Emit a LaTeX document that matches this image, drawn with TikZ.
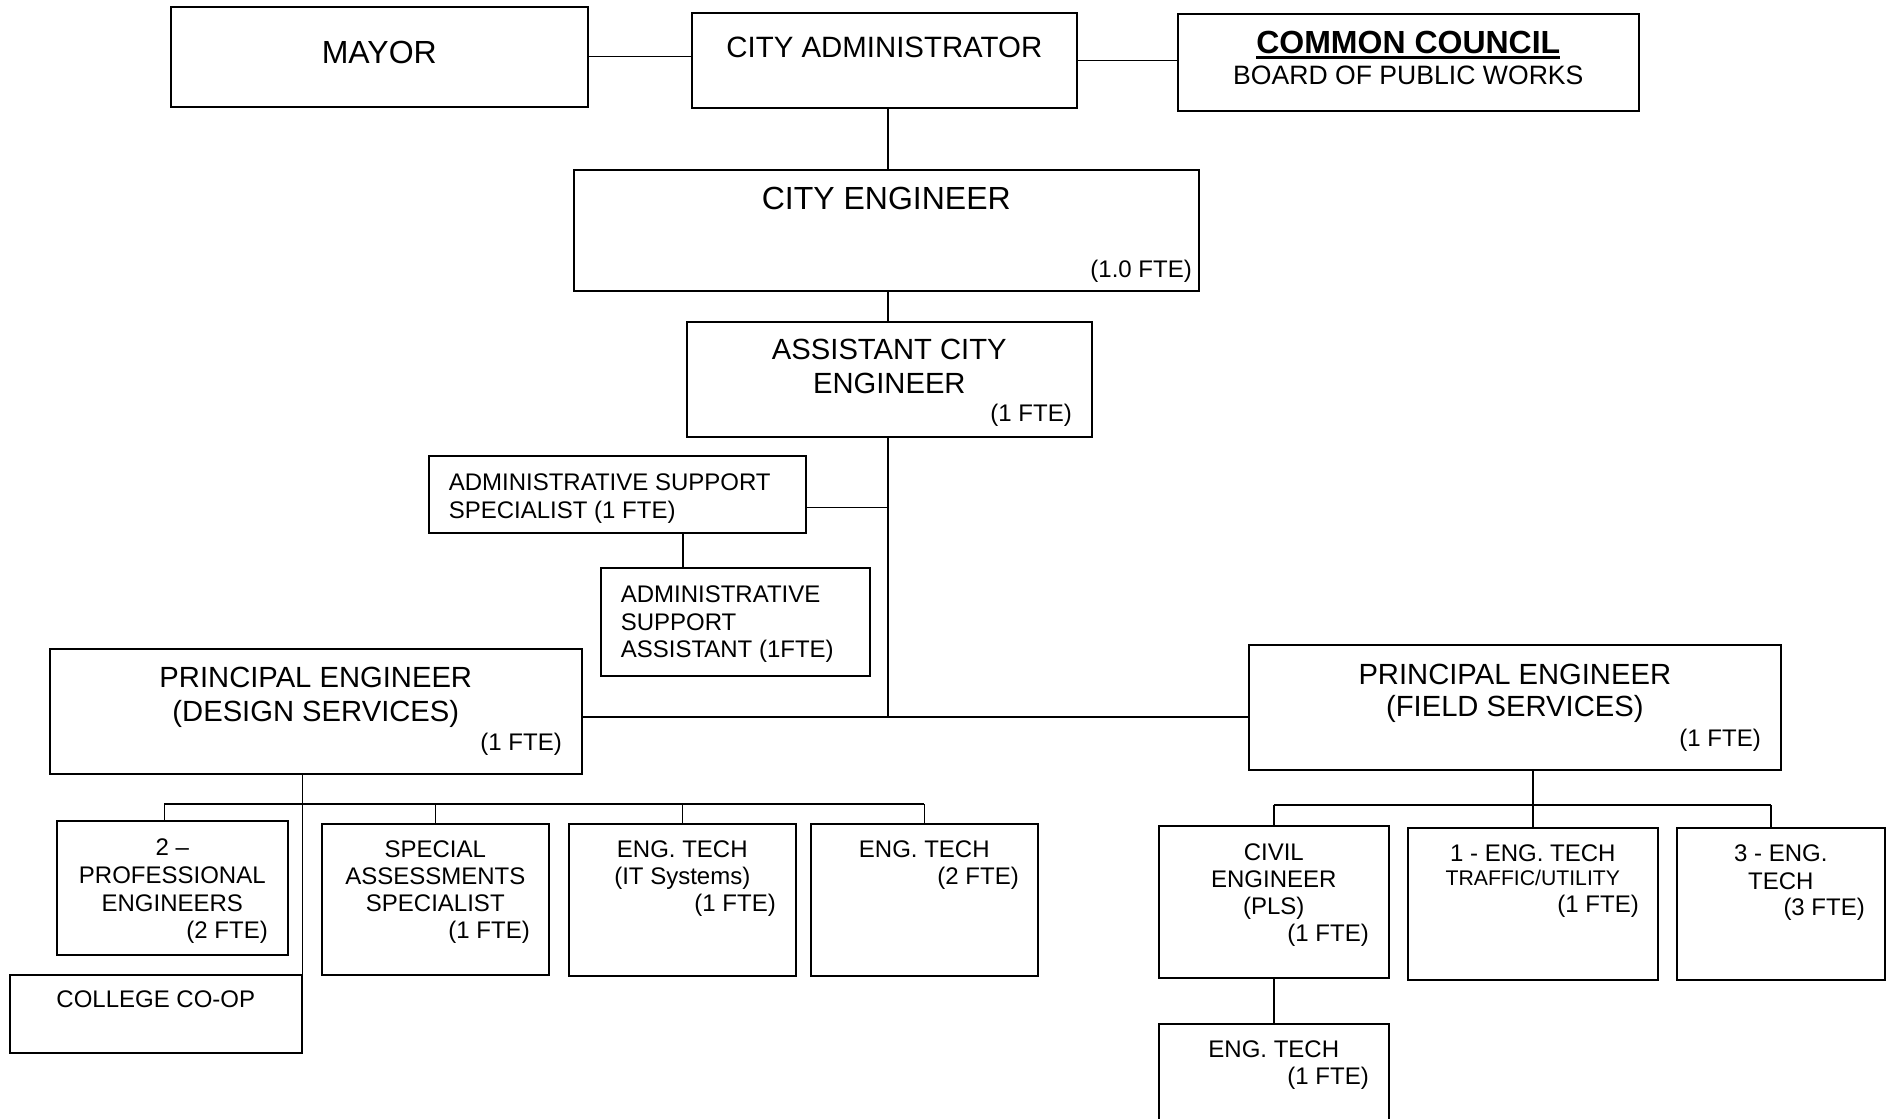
\documentclass[tikz,border=0pt]{standalone}
\usepackage{fontspec}
\setmainfont{Liberation Sans}
%% box text: width, height, gap above first line, lines
\newcommand{\boxtext}[4]{\parbox[t][#2][t]{#1}{\vspace*{#3}#4}}
%% one line: size, distance from previous baseline, text
\newcommand{\boxline}[3]{{\fontsize{#1}{#2}\selectfont#3\par}}
\newcommand{\ulbold}[1]{\leavevmode\setbox0=\hbox{\bfseries#1}\rlap{\rule[-2.9pt]{\wd0}{1.4pt}}\box0}

\begin{document}
\begin{tikzpicture}
[x=0.5pt,y=-0.5pt,
  orgbox/.style={draw,line width=0.8pt,inner xsep=10pt,inner ysep=0pt,anchor=north west},%
  orgline/.style={-,line width=0.7pt}]
\useasboundingbox (0,0) rectangle (1893,1118);
%% top row
\node[orgbox] (mayor) at (170,6) {\boxtext{188.5pt}{50pt}{17pt}{\centering
  \boxline{16}{19}{MAYOR}}};
\node[orgbox] (admin) at (691,12) {\boxtext{172.5pt}{47.5pt}{12.3pt}{\centering
  \boxline{14.7}{17}{CITY ADMINISTRATOR}}};
\node[orgbox] (council) at (1177,13) {\boxtext{210.5pt}{48.5pt}{8.5pt}{\centering
  \boxline{16}{19}{\ulbold{COMMON COUNCIL}}%
  \boxline{13.3}{15.85}{BOARD OF PUBLIC WORKS}}};
%% engineers
\node[orgbox] (cityeng) at (573,169) {\boxtext{292.5pt}{60.5pt}{8.85pt}{\centering
  \boxline{16}{19}{CITY ENGINEER}%
  \boxline{12}{33.7}{\raggedleft(1.0 FTE)\hspace*{-6.5pt}}}};
\node[orgbox] (ace) at (686,321) {\boxtext{182.5pt}{57.5pt}{8.65pt}{\centering
  \boxline{14.6}{17}{ASSISTANT CITY}%
  \boxline{14.6}{17}{ENGINEER}%
  \boxline{12}{13.85}{\raggedleft(1 FTE)}}};
%% support staff
\node[orgbox] (spec) at (428,455) {\boxtext{168.5pt}{38.5pt}{9.15pt}{\raggedright
  \boxline{12}{13.8}{ADMINISTRATIVE SUPPORT}%
  \boxline{12}{13.8}{SPECIALIST (1 FTE)}}};
\node[orgbox] (asst) at (600,567) {\boxtext{114.5pt}{54pt}{9pt}{\raggedright
  \boxline{12}{13.8}{ADMINISTRATIVE}%
  \boxline{12}{13.8}{SUPPORT}%
  \boxline{12}{13.8}{ASSISTANT (1FTE)}}};
%% principal engineers
\node[orgbox] (pedesign) at (49,648) {\boxtext{246pt}{62.5pt}{9.35pt}{\centering
  \boxline{14.6}{16.8}{PRINCIPAL ENGINEER}%
  \boxline{14.6}{16.8}{(DESIGN SERVICES)}%
  \boxline{12}{14.35}{\raggedleft(1 FTE)}}};
\node[orgbox] (pefield) at (1248,644) {\boxtext{246pt}{62.5pt}{9.5pt}{\centering
  \boxline{14.6}{16.4}{PRINCIPAL ENGINEER}%
  \boxline{14.6}{16.4}{(FIELD SERVICES)}%
  \boxline{12}{14.8}{\raggedleft(1 FTE)}}};
%% design services staff
\node[orgbox] (proeng) at (56,820) {\boxtext{95.5pt}{67pt}{9.15pt}{\centering
  \boxline{12}{13.8}{2 --}%
  \boxline{12}{13.8}{PROFESSIONAL}%
  \boxline{12}{13.8}{ENGINEERS}%
  \boxline{12}{13.6}{\raggedleft(2 FTE)}}};
\node[orgbox] (special) at (321,823) {\boxtext{93.5pt}{75.5pt}{8.5pt}{\centering
  \boxline{12}{13.6}{SPECIAL}%
  \boxline{12}{13.6}{ASSESSMENTS}%
  \boxline{12}{13.6}{SPECIALIST}%
  \boxline{12}{13.3}{\raggedleft(1 FTE)\hspace*{-0.5pt}}}};
\node[orgbox] (itTech) at (568,823) {\boxtext{93.5pt}{76pt}{8.5pt}{\centering
  \boxline{12}{13.6}{ENG. TECH}%
  \boxline{12}{13.6}{(IT Systems)}%
  \boxline{12}{13.6}{\raggedleft(1 FTE)}}};
\node[orgbox] (tech2) at (810,823) {\boxtext{93.5pt}{76pt}{8.5pt}{\centering
  \boxline{12}{13.6}{ENG. TECH}%
  \boxline{12}{13.6}{\raggedleft(2 FTE)\hspace*{-0.5pt}}}};
\node[orgbox] (coop) at (9,974) {\boxtext{126pt}{39pt}{8pt}{\centering
  \boxline{12}{13.8}{COLLEGE CO-OP}}};
%% field services staff
\node[orgbox] (civil) at (1158,825) {\boxtext{95pt}{76pt}{9.15pt}{\centering
  \boxline{12}{13.3}{CIVIL}%
  \boxline{12}{13.3}{ENGINEER}%
  \boxline{12}{13.3}{(PLS)}%
  \boxline{12}{13.8}{\raggedleft(1 FTE)}}};
\node[orgbox] (tech1) at (1407,827) {\boxtext{105pt}{76pt}{8.5pt}{\centering
  \boxline{12}{13.8}{1 - ENG. TECH}%
  \boxline{10.6}{12}{TRAFFIC/UTILITY}%
  \boxline{12}{13.5}{\raggedleft(1 FTE)\hspace*{-0.5pt}}}};
\node[orgbox] (tech3) at (1676,827) {\boxtext{84pt}{76pt}{8.5pt}{\centering
  \boxline{12}{13.8}{3 - ENG.}%
  \boxline{12}{13.8}{TECH}%
  \boxline{12}{13.3}{\raggedleft(3 FTE)}}};
\node[orgbox] (techcivil) at (1158,1023) {\boxtext{95pt}{75pt}{8.5pt}{\centering
  \boxline{12}{13.8}{ENG. TECH}%
  \boxline{12}{13.3}{\raggedleft(1 FTE)}}};
%% junctions
\coordinate (hub) at (888,717);
\coordinate (dbus) at (299,804);
\coordinate (fbus) at (1530,805);
\coordinate (specout) at ([yshift=-6.5pt]spec.east);
\coordinate (specdown) at ([xshift=32.75pt]spec.south);
\coordinate (prodrop) at ([xshift=-4pt]proeng.north);
\coordinate (tech3drop) at ([xshift=-5pt]tech3.north);
%% connectors
\path[orgline]
  (mayor.east) edge (mayor.east -| admin.west)
  (admin.east) edge (admin.east -| council.west)
  (admin.south -| hub) edge (cityeng.north -| hub)
  (cityeng.south -| hub) edge (ace.north -| hub)
  (ace.south -| hub) edge (hub)
  (specout) edge (specout -| hub)
  (specdown) edge (specdown |- asst.north)
  (pedesign.east |- hub) edge (pefield.west |- hub)
  (coop.north east |- pedesign.south) edge (coop.north east)
  (prodrop |- dbus) edge (tech2.north |- dbus)
  (prodrop |- dbus) edge (prodrop)
  (tech1.north |- pefield.south) edge (tech1.north)
  (civil.north |- fbus) edge (tech3drop |- fbus)
  (civil.north |- fbus) edge (civil.north)
  (tech3drop |- fbus) edge (tech3drop)
  (civil.south) edge (techcivil.north);
\path[orgline]
\foreach \childnode in {special,itTech,tech2}
{
  (\childnode.north |- dbus) edge (\childnode.north)
};
\end{tikzpicture}
\end{document}
